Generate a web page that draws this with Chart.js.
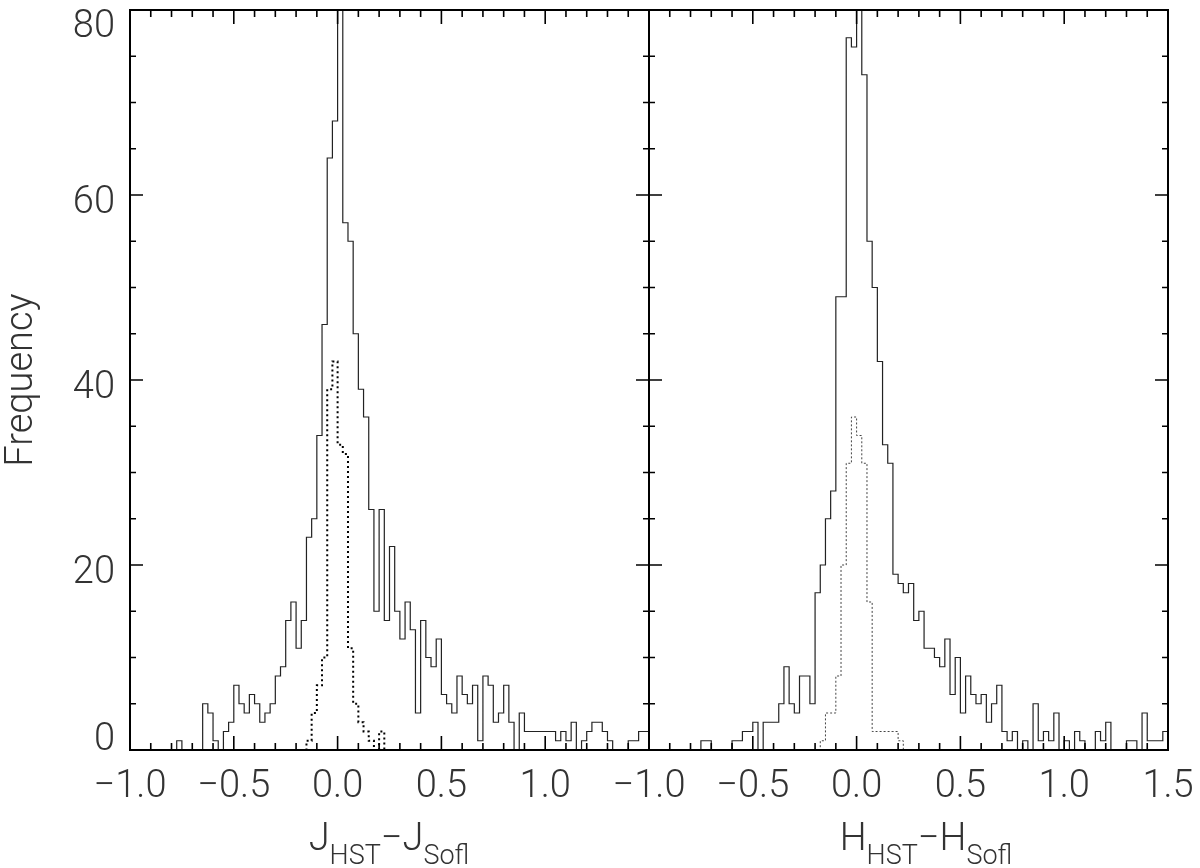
<!DOCTYPE html>
<html><head><meta charset="utf-8">
<script src="https://cdn.jsdelivr.net/npm/chart.js@4.4.1/dist/chart.umd.min.js"></script>
<style>
html,body{margin:0;padding:0;background:#fff;}
#wrap{position:relative;width:1200px;height:868px;overflow:hidden;background:#fff;}
#wrap canvas{position:absolute;left:0;top:0;}
.xt{position:absolute;transform:translateX(-50%);font-family:Roboto,'DejaVu Sans',sans-serif;font-weight:300;font-size:38px;color:#333;white-space:nowrap;line-height:38px;}
.xt sub{font-size:27px;vertical-align:-14px;line-height:1;}
</style></head>
<body>
<div id="wrap">
<canvas id="cL" width="1200" height="868"></canvas>
<canvas id="cR" width="1200" height="868"></canvas>
<div class="xt" style="left:389px;top:818px">J<sub>HST</sub>−J<sub>Sofl</sub></div>
<div class="xt" style="left:926px;top:818px">H<sub>HST</sub>−H<sub>Sofl</sub></div>
</div>
<script>
// ---- histogram definition (bin starts every 0.025 from -1.0) ----
const binWidth = 0.025;
const jSolidStart = -1.0;
const jSolidCounts = [
  0,0,0,0,0,0,0,0,0,1,0,0,0,0,
  5,4,1,0,2,3,7,5,4,6,
  5,3,4,5,8,9,14,16,11,14,
  23,25,34,46,64,68,88,57,55,45,
  39,36,26,15,26,14,22,15,12,16,
  13,4,14,10,9,12,6,5,4,8,
  6,5,7,1,8,7,3,4,7,3,
  0,4,2,2,2,2,2,2,1,2,
  1,3,0,1,2,3,3,2,1,0,
  0,0,1,1,2,2
];
const jDotStart = -0.225;
const jDotCounts = [0,0,0,1,4,7,10,39,42,33,32,11,5,3,2,1,0,2,0];

const hSolidStart = -1.0;
const hSolidCounts = [
  0,0,0,0,0,0,0,0,0,0,
  1,1,0,0,0,0,1,1,2,2,
  3,0,3,3,3,5,9,5,4,8,
  8,5,17,20,25,28,49,49,77,76,
  90,73,55,50,42,33,31,19,18,17,
  18,14,15,11,11,10,9,12,6,10,
  4,8,6,5,6,3,5,7,2,1,
  2,0,1,0,5,1,2,1,4,0,
  1,0,2,1,0,0,2,1,3,0,
  0,0,1,1,0,4,1,1,1,2
];
const hDotStart = -0.2;
const hDotCounts = [0,1,4,4,8,20,31,36,34,31,16,2,2,2,2,2,1,0];

const xMin = -1.0, xMax = 1.5;
const yMin = 0, yMax = 80;
const xTickValues = [-1.0, -0.5, 0.0, 0.5, 1.0, 1.5];
const xTickLabelsLeft  = ['−1.0', '−0.5', '0.0', '0.5', '1.0', ''];
const xTickLabelsRight = ['−1.0', '−0.5', '0.0', '0.5', '1.0', '1.5'];
const yTickValues = [0, 20, 40, 60, 80];
const yTickLabels = ['0', '20', '40', '60', '80'];
const yTitle = 'Frequency';

// ---- helpers ----
function steps(start, counts) {
  const pts = counts.map((c, i) => ({x: +(start + i * binWidth).toFixed(4), y: c}));
  pts.push({x: +(start + counts.length * binWidth).toFixed(4), y: counts[counts.length - 1]});
  return pts;
}

const FONT = 'Roboto, "DejaVu Sans", sans-serif';
const TXT = '#333';

const framePlugin = {
  id: 'frame',
  afterDatasetsDraw(chart, args, opts) {
    const {ctx, chartArea: a} = chart;
    const x = chart.scales.x, y = chart.scales.y;
    ctx.save();
    ctx.strokeStyle = '#000';
    ctx.lineWidth = 1.6;
    ctx.beginPath();
    for (let k = -10; k <= 15; k++) {
      const px = x.getPixelForValue(k / 10);
      const len = (k % 5 === 0) ? 14 : 7;
      ctx.moveTo(px, a.bottom); ctx.lineTo(px, a.bottom - len);
      ctx.moveTo(px, a.top); ctx.lineTo(px, a.top + len);
    }
    for (let k = 0; k <= 16; k++) {
      const py = y.getPixelForValue(k * 5);
      const len = (k % 4 === 0) ? 13 : 6;
      ctx.moveTo(a.left, py); ctx.lineTo(a.left + len, py);
      ctx.moveTo(a.right, py); ctx.lineTo(a.right - len, py);
    }
    ctx.stroke();
    ctx.lineWidth = 2;
    ctx.strokeRect(a.left, a.top, a.right - a.left, a.bottom - a.top);
    if (opts && opts.yLabels) {
      ctx.fillStyle = TXT;
      ctx.font = '300 38px ' + FONT;
      ctx.textAlign = 'right';
      ctx.textBaseline = 'alphabetic';
      yTickValues.forEach((v, i) => {
        let base = y.getPixelForValue(v) + 18;
        base = Math.max(a.top + 27, Math.min(a.bottom, base));
        ctx.fillText(yTickLabels[i], a.left - 15, base);
      });
    }
    ctx.restore();
  }
};

function makeChart(id, datasets, cfg) {
  return new Chart(document.getElementById(id), {
    type: 'line',
    data: {datasets},
    options: {
      responsive: false,
      animation: false,
      events: [],
      layout: {padding: {left: 0, top: 10, right: cfg.padRight, bottom: 0}},
      plugins: {legend: {display: false}, tooltip: {enabled: false}, frame: {yLabels: cfg.yLabels}},
      scales: {
        x: {
          type: 'linear', min: xMin, max: xMax,
          grid: {display: false, drawTicks: false}, border: {display: false},
          afterBuildTicks: s => { s.ticks = xTickValues.map(v => ({value: v})); },
          afterFit: s => { s.height = 118; s.paddingLeft = 0; s.paddingRight = 0; },
          ticks: {
            autoSkip: false, maxRotation: 0, minRotation: 0, padding: 15,
            color: TXT, font: {family: FONT, size: 38, weight: 300},
            callback: (v, i) => cfg.xLabels[i]
          }
        },
        y: {
          type: 'linear', min: yMin, max: yMax,
          grid: {display: false, drawTicks: false}, border: {display: false},
          ticks: {display: false},
          afterFit: s => { s.width = cfg.yWidth; s.paddingTop = 0; s.paddingBottom = 0; },
          title: {display: cfg.yLabels, text: yTitle, color: TXT, padding: 0,
                  font: {family: FONT, size: 38, weight: 300}}
        }
      }
    },
    plugins: [framePlugin]
  });
}

const solidStyle = {borderColor: '#222', borderWidth: 1.2, stepped: true, pointRadius: 0, fill: false, tension: 0};

makeChart('cL', [
  Object.assign({label: 'J all', data: steps(jSolidStart, jSolidCounts)}, solidStyle),
  {label: 'J sub', data: steps(jDotStart, jDotCounts), borderColor: '#000', borderWidth: 2,
   borderDash: [2, 3], stepped: true, pointRadius: 0, fill: false}
], {padRight: 1200 - 649, yWidth: 130, yLabels: true, xLabels: xTickLabelsLeft});

makeChart('cR', [
  Object.assign({label: 'H all', data: steps(hSolidStart, hSolidCounts)}, solidStyle),
  {label: 'H sub', data: steps(hDotStart, hDotCounts), borderColor: '#444', borderWidth: 1,
   borderDash: [2, 2], stepped: true, pointRadius: 0, fill: false}
], {padRight: 32, yWidth: 649, yLabels: false, xLabels: xTickLabelsRight});
</script>
</body></html>
